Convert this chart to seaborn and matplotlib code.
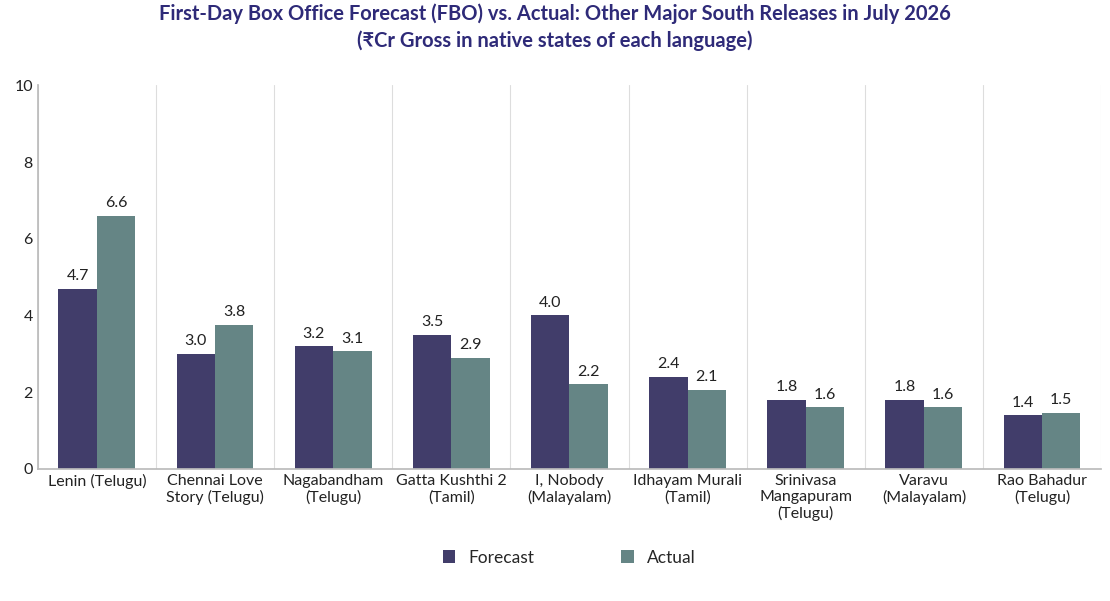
import matplotlib
matplotlib.use("Agg")
import matplotlib.pyplot as plt
import seaborn as sns
import pandas as pd

categories = ["Lenin (Telugu)", "Chennai Love\nStory (Telugu)", "Nagabandham\n(Telugu)", "Gatta Kushthi 2\n(Tamil)",
              "I, Nobody\n(Malayalam)", "Idhayam Murali\n(Tamil)", "Srinivasa\nMangapuram\n(Telugu)",
              "Varavu\n(Malayalam)", "Rao Bahadur\n(Telugu)"]
forecast = [4.7, 3.0, 3.2, 3.5, 4.0, 2.4, 1.8, 1.8, 1.4]
actual = [6.6, 3.76, 3.06, 2.9, 2.2, 2.06, 1.6, 1.6, 1.46]

sns.set_theme(style="white")
plt.rcParams['font.family'] = ['Lato', 'DejaVu Sans']

df = pd.DataFrame({"cat": categories * 2, "val": forecast + actual,
                   "series": ["Forecast"] * 9 + ["Actual"] * 9})

fig, ax = plt.subplots(figsize=(11.1, 6.01), dpi=100)
fig.subplots_adjust(left=0.034, right=0.992, top=0.858, bottom=0.22)
sns.barplot(data=df, x="cat", y="val", hue="series", palette=["#3b3572", "#5f8a8b"],
            width=0.65, gap=0.0, ax=ax, edgecolor="none")
for c in ax.containers:
    ax.bar_label(c, fmt="%.1f", padding=4, fontsize=11.5, color="#222222")
ax.set_ylim(0, 10)
ax.set_yticks(range(0, 11, 2))
ax.set_xlim(-0.5, 8.5)
for x in range(10):
    ax.axvline(x - 0.5, color="#dddddd", lw=0.8, zorder=0)
ax.set_xlabel("")
ax.set_ylabel("")
ax.tick_params(axis="both", labelsize=11.5, colors="#222222", length=0)
for s in ["top", "right"]:
    ax.spines[s].set_visible(False)
for s in ["left", "bottom"]:
    ax.spines[s].set_color("#bbbbbb")
ax.legend(loc="upper center", bbox_to_anchor=(0.5, -0.17), ncol=2, frameon=False,
          fontsize=12.5, handlelength=0.7, handleheight=0.7, columnspacing=5)
fig.suptitle("First-Day Box Office Forecast (FBO) vs. Actual: Other Major South Releases in July 2026\n(₹Cr Gross in native states of each language)",
             fontsize=14.5, fontweight="bold", color="#2e2a78", y=0.995, linespacing=1.4)
fig.savefig("out.png", dpi=100)
